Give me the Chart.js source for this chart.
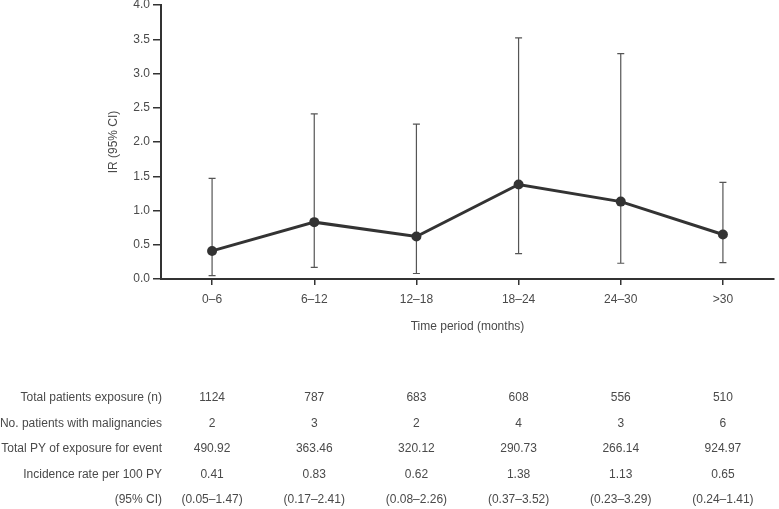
<!DOCTYPE html>
<html>
<head>
<meta charset="utf-8">
<script src="https://cdn.jsdelivr.net/npm/chart.js@4/dist/chart.umd.min.js"></script>
<style>
  html, body { margin: 0; padding: 0; background: #fff; }
  #wrap { width: 779px; height: 509px; }
</style>
</head>
<body>
<div id="wrap"><canvas id="chart" width="779" height="509"></canvas></div>
<script>
const periods = ['0–6', '6–12', '12–18', '18–24', '24–30', '>30'];
const incidence = [0.41, 0.83, 0.62, 1.38, 1.13, 0.65];
const ciLow = [0.05, 0.17, 0.08, 0.37, 0.23, 0.24];
const ciHigh = [1.47, 2.41, 2.26, 3.52, 3.29, 1.41];
const patientsExposure = [1124, 787, 683, 608, 556, 510];
const malignancies = [2, 3, 2, 4, 3, 6];
const pyExposure = ['490.92', '363.46', '320.12', '290.73', '266.14', '924.97'];
const rowLabels = [
  'Total patients exposure (n)',
  'No. patients with malignancies',
  'Total PY of exposure for event',
  'Incidence rate per 100 PY',
  '(95% CI)'
];

const FONT = "'Helvetica Neue', 'Liberation Sans', Arial, sans-serif";
const TEXT = '#4a4a4a';
const AXIS = '#333';

// whiskers for the 95% CI, drawn under the line
const errorBars = {
  id: 'errorBars',
  beforeDatasetsDraw(chart) {
    const { ctx, scales: { x, y } } = chart;
    ctx.save();
    ctx.strokeStyle = '#555';
    ctx.lineWidth = 1.2;
    periods.forEach((p, i) => {
      const px = x.getPixelForValue(i);
      const top = y.getPixelForValue(ciHigh[i]);
      const bot = y.getPixelForValue(ciLow[i]);
      ctx.beginPath();
      ctx.moveTo(px, top); ctx.lineTo(px, bot);
      ctx.moveTo(px - 3.5, top); ctx.lineTo(px + 3.5, top);
      ctx.moveTo(px - 3.5, bot); ctx.lineTo(px + 3.5, bot);
      ctx.stroke();
    });
    ctx.restore();
  }
};

// data table under the chart, columns follow the x scale
const dataTable = {
  id: 'dataTable',
  afterDraw(chart) {
    const { ctx, scales: { x } } = chart;
    const rows = [
      patientsExposure.map(String),
      malignancies.map(String),
      pyExposure,
      incidence.map(v => v.toFixed(2)),
      ciLow.map((lo, i) => `(${lo.toFixed(2)}–${ciHigh[i].toFixed(2)})`)
    ];
    const rowY = [398, 423.5, 449, 475, 500];
    ctx.save();
    ctx.font = `12px ${FONT}`;
    ctx.fillStyle = TEXT;
    ctx.textBaseline = 'middle';
    rows.forEach((cells, r) => {
      ctx.textAlign = 'right';
      ctx.fillText(rowLabels[r], 162, rowY[r]);
      ctx.textAlign = 'center';
      cells.forEach((c, i) => ctx.fillText(c, x.getPixelForValue(i), rowY[r]));
    });
    ctx.restore();
  }
};

new Chart(document.getElementById('chart'), {
  type: 'line',
  data: {
    labels: periods,
    datasets: [{
      data: incidence,
      borderColor: '#333',
      backgroundColor: '#333',
      borderWidth: 3,
      pointRadius: 5,
      pointBackgroundColor: '#333',
      pointBorderWidth: 0,
      tension: 0
    }]
  },
  options: {
    responsive: false,
    animation: false,
    layout: { padding: { left: 106, top: 5, right: 3, bottom: 175 } },
    plugins: {
      legend: { display: false },
      tooltip: { enabled: false }
    },
    scales: {
      x: {
        offset: true,
        afterFit: (s) => { s.height = 55; },
        grid: { offset: false, drawOnChartArea: false, drawTicks: true, tickLength: 6, color: AXIS, lineWidth: 1.5 },
        border: { display: true, color: AXIS, width: 2 },
        ticks: { color: TEXT, font: { family: FONT, size: 12 }, padding: 7, maxRotation: 0 },
        title: { display: true, text: 'Time period (months)', color: TEXT, font: { family: FONT, size: 12 }, padding: 0 }
      },
      y: {
        min: 0,
        max: 4,
        afterFit: (s) => { s.width = 55; s.paddingTop = 0; s.paddingBottom = 0; },
        grid: { drawOnChartArea: false, drawTicks: true, tickLength: 8, color: AXIS, lineWidth: 1.5 },
        border: { display: true, color: AXIS, width: 2 },
        ticks: { stepSize: 0.5, color: TEXT, font: { family: FONT, size: 12 }, padding: 3, callback: (v) => v.toFixed(1) },
        title: { display: true, text: 'IR (95% CI)', color: TEXT, font: { family: FONT, size: 12 }, padding: 0 }
      }
    }
  },
  plugins: [errorBars, dataTable]
});
</script>
</body>
</html>
